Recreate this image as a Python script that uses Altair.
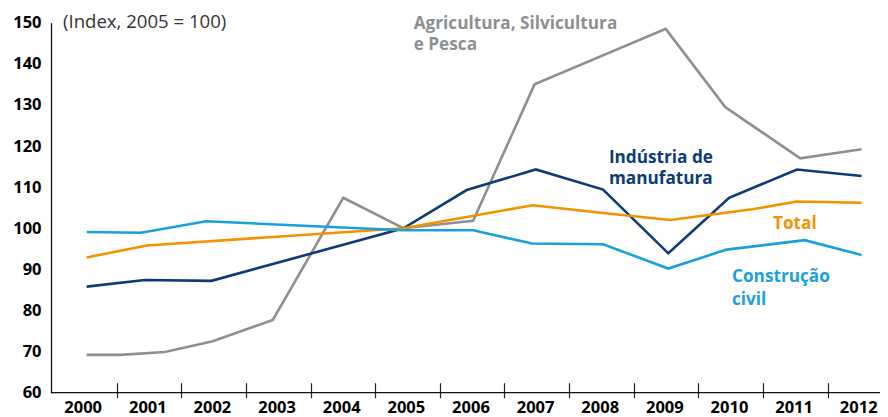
import altair as alt
import pandas as pd

# ---- data ----
series_names = ["Agricultura, Silvicultura e Pesca", "Indústria de manufatura", "Total", "Construção civil"]
series_colors = ["#8d9092", "#0b3c78", "#f39200", "#1a9fdf"]

agri_x = [2000.0, 2000.52, 2001.21, 2001.95, 2002.88, 2003.97, 2004.9, 2005.98, 2006.93, 2008.96, 2009.88, 2011.04, 2011.99]
agri_y = [69.2, 69.2, 69.9, 72.5, 77.7, 107.4, 100.0, 101.8, 135.0, 148.5, 129.5, 117.0, 119.2]

ind_x = [2000.0, 2000.9, 2001.93, 2004.9, 2005.88, 2006.95, 2007.99, 2009.0, 2009.94, 2010.99, 2011.99]
ind_y = [85.8, 87.4, 87.2, 100.0, 109.3, 114.3, 109.4, 93.9, 107.4, 114.3, 112.7]

tot_x = [2000.0, 2000.93, 2004.9, 2006.9, 2007.99, 2009.03, 2010.3, 2010.99, 2011.99]
tot_y = [92.9, 95.8, 100.0, 105.6, 103.7, 102.0, 104.6, 106.5, 106.2]

con_x = [2000.0, 2000.84, 2001.85, 2004.9, 2005.98, 2006.89, 2007.99, 2009.0, 2009.9, 2011.11, 2011.99]
con_y = [99.1, 98.9, 101.7, 99.5, 99.5, 96.3, 96.1, 90.2, 94.8, 97.1, 93.5]

years = list(range(2000, 2013))
y_ticks = list(range(60, 151, 10))

label_text = ["Agricultura, Silvicultura", "e Pesca", "Indústria de", "manufatura", "Total", "Construção", "civil"]
label_series = [series_names[0], series_names[0], series_names[1], series_names[1], series_names[2], series_names[3], series_names[3]]
label_x = [2005.06, 2005.06, 2008.08, 2008.08, 2010.62, 2009.985, 2009.985]
label_y = [148.4, 143.3, 115.8, 110.7, 99.8, 86.9, 81.3]

note_text = ["(Index, 2005 = 100)"]
note_x = [1999.633]
note_y = [148.6]

# ---- tables ----
rows = []
for name, xs, ys in zip(series_names, [agri_x, ind_x, tot_x, con_x], [agri_y, ind_y, tot_y, con_y]):
    for i, (xv, yv) in enumerate(zip(xs, ys)):
        rows.append({"serie": name, "ano": xv, "indice": yv, "ordem": i})
df = pd.DataFrame(rows)
df_labels = pd.DataFrame({"texto": label_text, "serie": label_series, "ano": label_x, "indice": label_y})
df_note = pd.DataFrame({"texto": note_text, "ano": note_x, "indice": note_y})

W, H = 829, 370
FONT = "Open Sans"
xscale = alt.Scale(domain=[1999.448, 2012.275], nice=False, zero=False)
yscale = alt.Scale(domain=[60, 150], nice=False, zero=False)
cscale = alt.Scale(domain=series_names, range=series_colors)

x_axis = alt.Axis(values=years, format="d", title=None, domain=False, grid=False,
                  tickSize=15, tickOffset=30, labelOffset=-34, offset=-10, labelPadding=1.5,
                  tickColor="#222222", tickWidth=1.2, labelFont=FONT, labelFontSize=16.5,
                  labelFontWeight="bold", labelColor="#000000", labelFlush=False, labelOverlap=False)
y_axis = alt.Axis(values=y_ticks, title=None, grid=False, ticks=False, labelPadding=10,
                  domainColor="#111111", domainWidth=1.3, labelFont=FONT, labelFontSize=16.5,
                  labelFontWeight="bold", labelColor="#000000")

base_line = alt.Chart(pd.DataFrame({"a": [0]})).mark_rule(color="#111111", strokeWidth=1.3).encode(
    y=alt.datum(60), x=alt.value(0), x2=alt.value(W)
)

lines = alt.Chart(df).mark_line(strokeWidth=2.6, strokeJoin="miter").encode(
    x=alt.X("ano:Q", scale=xscale, axis=x_axis),
    y=alt.Y("indice:Q", scale=yscale, axis=y_axis),
    color=alt.Color("serie:N", scale=cscale, legend=None),
    order="ordem:Q",
    detail="serie:N",
)

labels = alt.Chart(df_labels).mark_text(align="left", baseline="alphabetic", font=FONT,
                                        fontSize=17.2, fontWeight="bold").encode(
    x=alt.X("ano:Q", scale=xscale),
    y=alt.Y("indice:Q", scale=yscale),
    text="texto:N",
    color=alt.Color("serie:N", scale=cscale, legend=None),
)

note = alt.Chart(df_note).mark_text(align="left", baseline="alphabetic", font=FONT,
                                    fontSize=18.6, color="#333333").encode(
    x=alt.X("ano:Q", scale=xscale),
    y=alt.Y("indice:Q", scale=yscale),
    text="texto:N",
)

chart = alt.layer(base_line, lines, labels, note).properties(
    width=W, height=H,
    autosize=alt.AutoSizeParams(type="none"),
    padding={"left": 43, "top": 14.7, "right": 0, "bottom": 24},
).configure_view(stroke=None)

chart.save("out.html", embed_options={"renderer": "svg", "actions": False})
